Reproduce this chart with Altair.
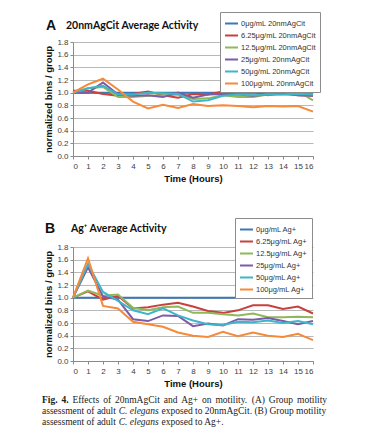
import altair as alt
import pandas as pd

hours = list(range(17))

names_a = ["0μg/mL 20nmAgCit", "6.25μg/mL 20nmAgCit", "12.5μg/mL 20nmAgCit",
           "25μg/mL 20nmAgCit", "50μg/mL 20nmAgCit", "100μg/mL 20nmAgCit"]
a_0 = [1.0] * 17
a_625 = [1.03, 1.03, 0.98, 0.95, 0.98, 1.02, 0.96, 0.92, 0.98, 0.97, 1.02, 1.01, 1.02, 0.96, 1.0, 0.96, 0.95]
a_125 = [1.0, 1.07, 1.09, 0.93, 0.93, 0.95, 0.96, 0.97, 0.90, 0.91, 0.96, 0.93, 0.93, 0.97, 0.98, 1.02, 0.88]
a_25 = [1.0, 1.0, 1.16, 0.97, 0.95, 0.96, 0.93, 1.0, 0.92, 0.97, 0.98, 0.97, 0.95, 0.97, 0.98, 0.96, 0.95]
a_50 = [1.0, 1.07, 1.11, 0.97, 0.97, 1.0, 0.99, 0.98, 0.86, 0.88, 0.95, 0.97, 0.96, 0.97, 0.97, 0.98, 0.97]
a_100 = [1.0, 1.13, 1.22, 1.05, 0.86, 0.75, 0.81, 0.76, 0.82, 0.79, 0.80, 0.79, 0.77, 0.79, 0.78, 0.79, 0.70]

names_b = ["0μg/mL Ag+", "6.25μg/mL Ag+", "12.5μg/mL Ag+",
           "25μg/mL Ag+", "50μg/mL Ag+", "100μg/mL Ag+"]
b_0 = [1.0] * 17
b_625 = [1.0, 1.10, 0.97, 1.03, 0.83, 0.85, 0.89, 0.92, 0.86, 0.79, 0.76, 0.80, 0.88, 0.88, 0.82, 0.86, 0.75]
b_125 = [1.0, 1.11, 1.03, 1.05, 0.84, 0.80, 0.85, 0.86, 0.76, 0.76, 0.74, 0.72, 0.75, 0.69, 0.69, 0.70, 0.69]
b_25 = [1.0, 1.48, 1.02, 0.97, 0.66, 0.63, 0.72, 0.71, 0.55, 0.59, 0.56, 0.66, 0.65, 0.68, 0.63, 0.58, 0.63]
b_50 = [1.0, 1.53, 1.09, 0.95, 0.80, 0.74, 0.83, 0.72, 0.64, 0.58, 0.57, 0.62, 0.61, 0.64, 0.60, 0.63, 0.58]
b_100 = [1.0, 1.62, 0.87, 0.83, 0.62, 0.58, 0.54, 0.45, 0.40, 0.38, 0.46, 0.39, 0.45, 0.40, 0.38, 0.43, 0.33]

colors = ["#3C78B5", "#C9413E", "#8FB85A", "#7D5BA6", "#3FB5C9", "#F58A3A"]
y_ticks = [0.0, 0.2, 0.4, 0.6, 0.8, 1.0, 1.2, 1.4, 1.6, 1.8]

# caption, line 1 is justified word by word
caption_line1 = ["Fig.", "4.", "Effects", "of", "20nmAgCit", "and", "Ag+", "on",
                 "motility.", "(A)", "Group", "motility"]
caption_line1_x = [-31, -11.5, -0.6, 30.2, 41.9, 90.7, 108.2, 129.1, 142.4, 178.8, 195.8, 224]


def long_df(names, series):
    rows = []
    for i, (n, vals) in enumerate(zip(names, series)):
        for h, v in zip(hours, vals):
            rows.append({"series": n, "hour": h, "value": v, "k": i})
    return pd.DataFrame(rows)


df_a = long_df(names_a, [a_0, a_625, a_125, a_25, a_50, a_100])
df_b = long_df(names_b, [b_0, b_625, b_125, b_25, b_50, b_100])

SANS = "Liberation Sans"
SERIF = "Liberation Serif"
CAP = "#222222"
CAPSIZE = 9.5


def txt(s, x, y, size, font=SANS, weight="normal", style="normal", color="#111111", align="left"):
    return alt.Chart(pd.DataFrame({"t": [s]})).mark_text(
        text=s, font=font, fontSize=size, fontWeight=weight, fontStyle=style,
        color=color, align=align, baseline="middle"
    ).encode(x=alt.value(x), y=alt.value(y))


def panel(df, names, legend_x, legend_y):
    lines = alt.Chart(df).mark_line(strokeWidth=2).encode(
        x=alt.X("hour:Q", scale=alt.Scale(domain=[0, 16], nice=False),
                axis=alt.Axis(values=hours, title="Time (Hours)", format="d", grid=False)),
        y=alt.Y("value:Q", scale=alt.Scale(domain=[0, 1.8], nice=False),
                axis=alt.Axis(values=y_ticks, format=".1f", title="normalized bins / group", grid=True)),
        color=alt.Color("series:N", scale=alt.Scale(domain=names, range=colors),
                        sort=names,
                        legend=alt.Legend(orient="none", legendX=legend_x, legendY=legend_y,
                                          title=None, symbolType="stroke", symbolStrokeWidth=2,
                                          symbolSize=169, rowPadding=-0.4, labelFont=SANS,
                                          labelFontSize=7.5, labelColor="#333333", labelLimit=200,
                                          padding=4, strokeColor="#8c8c8c", fillColor="white",
                                          labelOffset=2)),
        order=alt.Order("k:Q"),
    )
    return lines


panel_a = alt.layer(
    panel(df_a, names_a, 147, -30),
    txt("A", -27, -16, 14, weight="bold"),
    txt("20nmAgCit Average Activity", -7, -16, 10.5, font="Lato", weight="bold"),
).properties(width=240, height=114)

cap_layers = []
for i, (w, x) in enumerate(zip(caption_line1, caption_line1_x)):
    cap_layers.append(txt(w, x, 153, CAPSIZE, font=SERIF, color=CAP,
                          weight="bold" if i < 2 else "normal"))
cap_layers += [
    txt("assessment of adult", -31, 164, CAPSIZE, font=SERIF, color=CAP),
    txt("C. elegans", 45.7, 164, CAPSIZE, font=SERIF, style="italic", color=CAP),
    txt("exposed to 20nmAgCit. (B) Group motility", 88.5, 164, CAPSIZE, font=SERIF, color=CAP),
    txt("assessment of adult", -31, 175, CAPSIZE, font=SERIF, color=CAP),
    txt("C. elegans", 45.7, 175, CAPSIZE, font=SERIF, style="italic", color=CAP),
    txt("exposed to Ag+.", 88.5, 175, CAPSIZE, font=SERIF, color=CAP),
]

panel_b = alt.layer(
    panel(df_b, names_b, 162, -29),
    txt("B", -28, -18, 14, weight="bold"),
    txt("Ag⁺ Average Activity", -2, -18, 10.5, font="Lato", weight="bold"),
    *cap_layers,
).properties(width=240, height=114)

chart = alt.vconcat(panel_a, panel_b, spacing=91, bounds="flush").resolve_scale(
    color="independent"
).properties(
    padding={"left": 34, "top": 3, "right": 5, "bottom": 5},
    background="white",
).configure_view(stroke=None).configure_axis(
    labelFont=SANS, labelFontSize=8, labelColor="#404040",
    titleFont=SANS, titleFontSize=9.5, titleFontWeight="bold", titleColor="#111111",
    domainColor="#8a8a8a", tickColor="#8a8a8a", tickSize=3, gridColor="#b8b8b8",
).configure_axisY(
    titlePadding=3, labelPadding=2,
).configure_axisX(
    titlePadding=3, labelPadding=3,
)

chart.save("out.html", embed_options={"renderer": "svg", "actions": False})
